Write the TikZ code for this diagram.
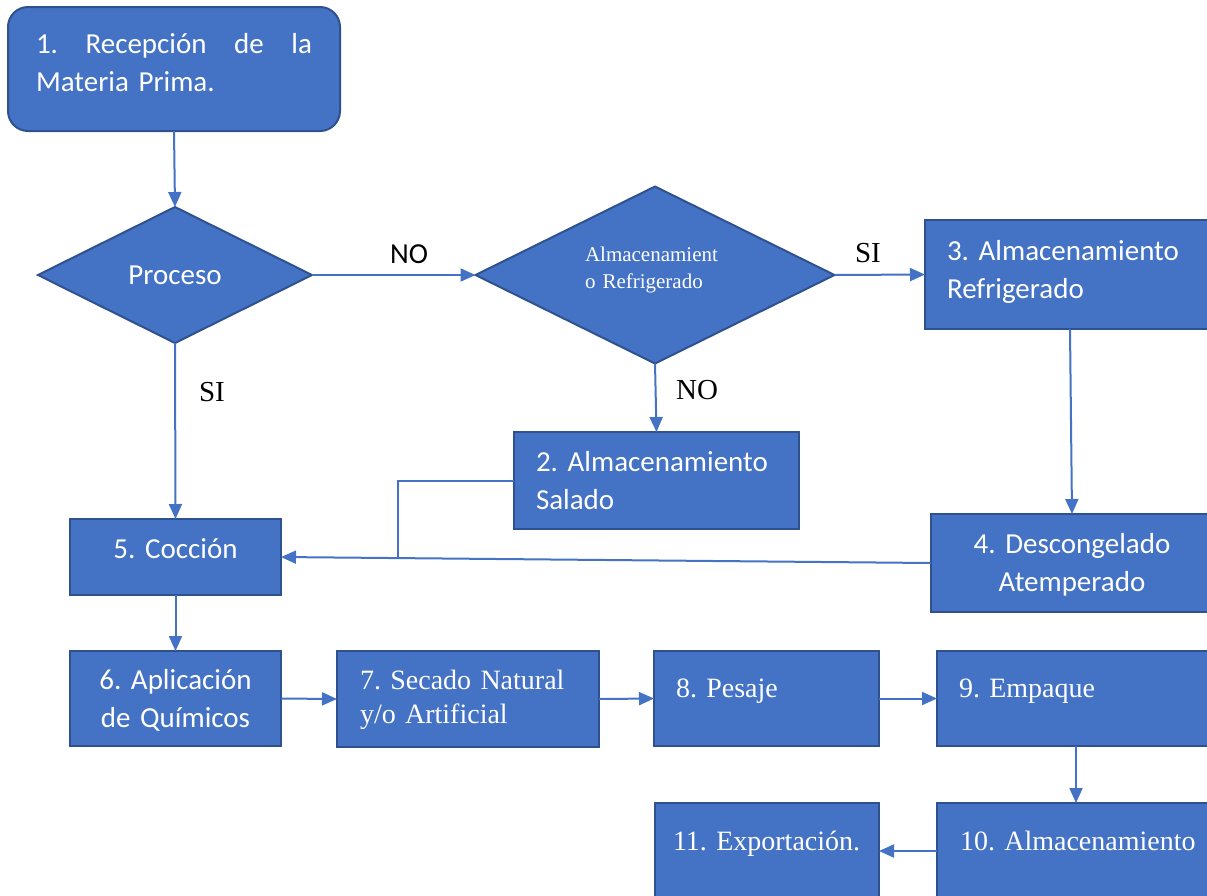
\documentclass[tikz,border=0pt]{standalone}
\usepackage{fontspec}
\usepackage{xcolor}
\usepackage{tikz}
\usetikzlibrary{arrows.meta,positioning,shapes.geometric,calc}
\newfontfamily\calibrifont{Carlito}
\newfontfamily\timesfont{Liberation Serif}
\definecolor{officeblue}{HTML}{4472C4}
\definecolor{officeedge}{HTML}{2F528F}
\tikzset{
  stage/.style={
    rectangle,
    draw=officeedge,
    line width=2pt,
    fill=officeblue,
    text=white,
    anchor=north west,
    inner xsep=22pt,
    inner ysep=0pt,
    outer sep=0pt,
    align=left
  },
  centerstage/.style={stage, align=center},
  sansbody/.style={font={\calibrifont\fontsize{29}{38}\selectfont}},
  serifbody/.style={font={\timesfont\fontsize{28}{34}\selectfont}},
  decision/.style={
    diamond,
    draw=officeedge,
    line width=2pt,
    fill=officeblue,
    text=white,
    aspect=2,
    inner sep=0pt,
    outer sep=0pt
  },
  answer/.style={text=black, inner sep=0pt},
  link/.style={
    draw=officeblue,
    line width=2pt
  },
  flow/.style={
    link,
    -{Triangle[length=15pt,width=13pt]}
  }
}

\begin{document}
\frenchspacing
\hyphenpenalty=10000
\exhyphenpenalty=10000
\begin{tikzpicture}[x=1pt, y=-1pt]
\useasboundingbox (0,0) rectangle (1207,895);
\clip (0,0) rectangle (1207,895);

% ---- Reception and the two decisions ----
\node[stage, sansbody, rounded corners=20pt, inner xsep=28pt, text width=276pt,
  text height=46pt, text depth=78pt] (reception) at (8,7)
  {1.\hfill Recepción\hfill de\hfill la\\Materia Prima.};
\node[decision, sansbody, minimum width=274pt, minimum height=136pt]
  (proceso) at (175,275) {Proceso};
\node[decision, font={\timesfont\fontsize{21}{27}\selectfont},
  minimum width=359pt, minimum height=177pt, text width=140pt, align=left,
  text height=14pt, text depth=42pt] (refrig) at (655,275)
  {Almacenamient\\o Refrigerado};

% ---- Storage branches ----
\node[stage, sansbody, text width=246pt, text height=40pt, text depth=69pt]
  (coldstore) at (925,220) {3. Almacenamiento\\Refrigerado};
\node[stage, sansbody, text width=241pt, text height=39pt, text depth=58pt]
  (saltstore) at (514,432) {2. Almacenamiento\\Salado};
\node[centerstage, sansbody, text width=238pt, text height=39pt, text depth=59pt]
  (thawing) at (931,514) {4. Descongelado\\Atemperado};

% ---- Processing line ----
\node[centerstage, sansbody, text width=167pt, text height=39pt, text depth=37pt]
  (cooking) at (70,519) {5. Cocción};
\node[centerstage, sansbody, text width=167pt, text height=38pt, text depth=57pt]
  (chemicals) at (70,651) {6. Aplicación\\de Químicos};
\node[stage, serifbody, inner xsep=23pt, text width=216pt, text height=38pt,
  text depth=58pt] (drying) at (337,651) {7. Secado Natural\\y/o Artificial};
\node[stage, serifbody, text width=181pt, text height=46pt, text depth=49pt]
  (weighing) at (654,651) {8. Pesaje};
\node[stage, serifbody, text width=234pt, text height=46pt, text depth=49pt]
  (packing) at (937,651) {9. Empaque};
\node[stage, serifbody, inner xsep=23pt, text width=240pt, text height=47pt,
  text depth=49pt] (storage) at (937,803) {10. Almacenamiento};
\node[stage, serifbody, inner xsep=18pt, text width=188pt, text height=47pt,
  text depth=49pt] (export) at (655,803) {11. Exportación.};

% ---- Branch answers ----
\node[answer, sansbody] (noproceso) at (409,254) {NO};
\node[answer, font={\timesfont\fontsize{29}{34}\selectfont}] (sirefrig) at (868,253) {SI};
\node[answer, font={\timesfont\fontsize{29}{34}\selectfont}] (norefrig) at (697,390) {NO};
\node[answer, font={\timesfont\fontsize{29}{34}\selectfont}] (siproceso) at (212,392) {SI};

% ---- Flow ----
\draw[flow] (reception.south) -- (proceso.north);
\draw[flow] (proceso.east) -- (refrig.west);
\draw[flow] (refrig.east) -- (coldstore.west);
\draw[flow] (refrig.south) -- (saltstore.north);
\draw[flow] (proceso.south) -- (cooking.north);
\draw[flow] (coldstore.south) -- (thawing.north);
\draw[flow] (thawing.west) -- (cooking.east);

% Salted storage joins the return line to cooking.
\coordinate (saltjoin) at ($(cooking.east)!0.18!(thawing.west)$);
\draw[link] (saltstore.west) -| (saltjoin);

\draw[flow] (cooking.south) -- (chemicals.north);
\draw[flow] (chemicals.east) -- (drying.west);
\draw[flow] (drying.east) -- (weighing.west);
\draw[flow] (weighing.east) -- (packing.west);
\draw[flow] (packing.south) -- (packing.south |- storage.north);
\draw[flow] (storage.west) -- (export.east);

\end{tikzpicture}
\end{document}
